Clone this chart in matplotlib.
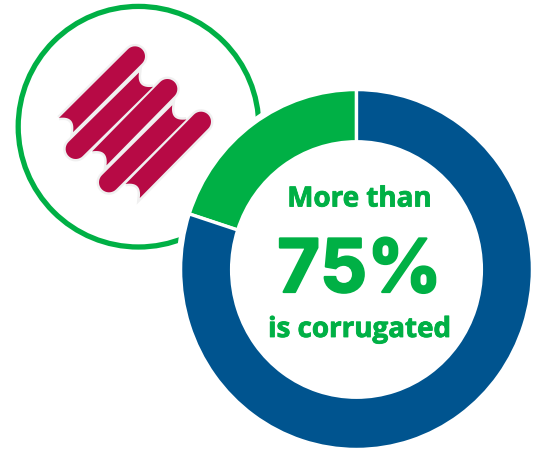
import numpy as np
import matplotlib
matplotlib.use("Agg")
import matplotlib.pyplot as plt
import matplotlib.patheffects as pe
from matplotlib.patches import Circle, Ellipse, PathPatch
from matplotlib.path import Path

labels = ["Other", "Corrugated"]
shares = [20, 80]
slice_colors = ["#00b045", "#00548f"]

GREEN = "#00b045"
CRIMSON = "#b70a45"
W, H = 536, 452


def tube(start, cap, half=30):
    """one logo tube: concave cut at start, round cap at the far end"""
    start = np.array(start, float)
    cap = np.array(cap, float)
    d = (cap - start) / np.linalg.norm(cap - start)
    n = np.array([-d[1], d[0]])
    # concave end, bows into the tube
    t = np.linspace(-1, 1, 16)
    cut = [start + n * half * a + d * 20 * (1 - a**2) for a in t]
    # round end
    ang = np.linspace(np.pi / 2, -np.pi / 2, 20)
    end = [cap + n * half * np.sin(a) + d * half * np.cos(a) for a in ang]
    pts = np.array(cut + end + [cut[0]])
    # traced on a 3x grid, origin at (10, 0)
    return pts / 3 + np.array([10, 0])


logo_tubes = [
    ((168, 378), (375, 172)),
    ((408, 242), (197, 450)),
    ((268, 478), (472, 270)),
    ((508, 340), (297, 550)),
    ((368, 576), (573, 368)),
]

fig = plt.figure(figsize=(W / 100, H / 100), dpi=100, facecolor="white")

# ---- badge behind the donut
bg = fig.add_axes([0, 0, 1, 1])
bg.set_xlim(0, W)
bg.set_ylim(H, 0)
bg.axis("off")
bg.add_patch(Circle((138.5, 127.7), 120.3, fill=False, edgecolor=GREEN, lw=3.8))
polys = [tube(a, b) for a, b in logo_tubes]
for p in polys:
    bg.add_patch(PathPatch(Path(p), facecolor="none", edgecolor="#f0f0f0", lw=3.5))
for p in polys:
    bg.add_patch(PathPatch(Path(p), facecolor=CRIMSON, edgecolor="none"))
# white halo cuts the badge ring
bg.add_patch(Ellipse((356.5, 270.5), 361, 369, facecolor="white", edgecolor="none"))

# ---- donut
x0, x1, y0, y1 = 182, 531, 92, 449
ax = fig.add_axes([x0 / W, 1 - y1 / H, (x1 - x0) / W, (y1 - y0) / H])
ax.pie(shares, colors=slice_colors, startangle=90, counterclock=True, radius=1.0,
       wedgeprops=dict(width=0.29, edgecolor="white", linewidth=2.4))
ax.set_aspect("auto")
ax.set_xlim(-0.992, 0.992)
ax.set_ylim(-0.992, 0.992)
ax.axis("off")

# ---- centre text
heavy = [pe.withStroke(linewidth=0.6, foreground=GREEN)]
fig.text(359.5 / W, 1 - 207.5 / H, "More than", color=GREEN, family="Open Sans",
         weight="bold", size=20, ha="center", va="baseline", path_effects=heavy)
fig.text(359.5 / W, 1 - 293 / H, "75%", color=GREEN, family="Inter",
         weight="bold", size=53, ha="center", va="baseline",
         path_effects=[pe.withStroke(linewidth=1.6, foreground=GREEN)])
fig.text(359.5 / W, 1 - 338 / H, "is corrugated", color=GREEN, family="Open Sans",
         weight="bold", size=20, ha="center", va="baseline", path_effects=heavy)

fig.savefig("out.png", dpi=100)
